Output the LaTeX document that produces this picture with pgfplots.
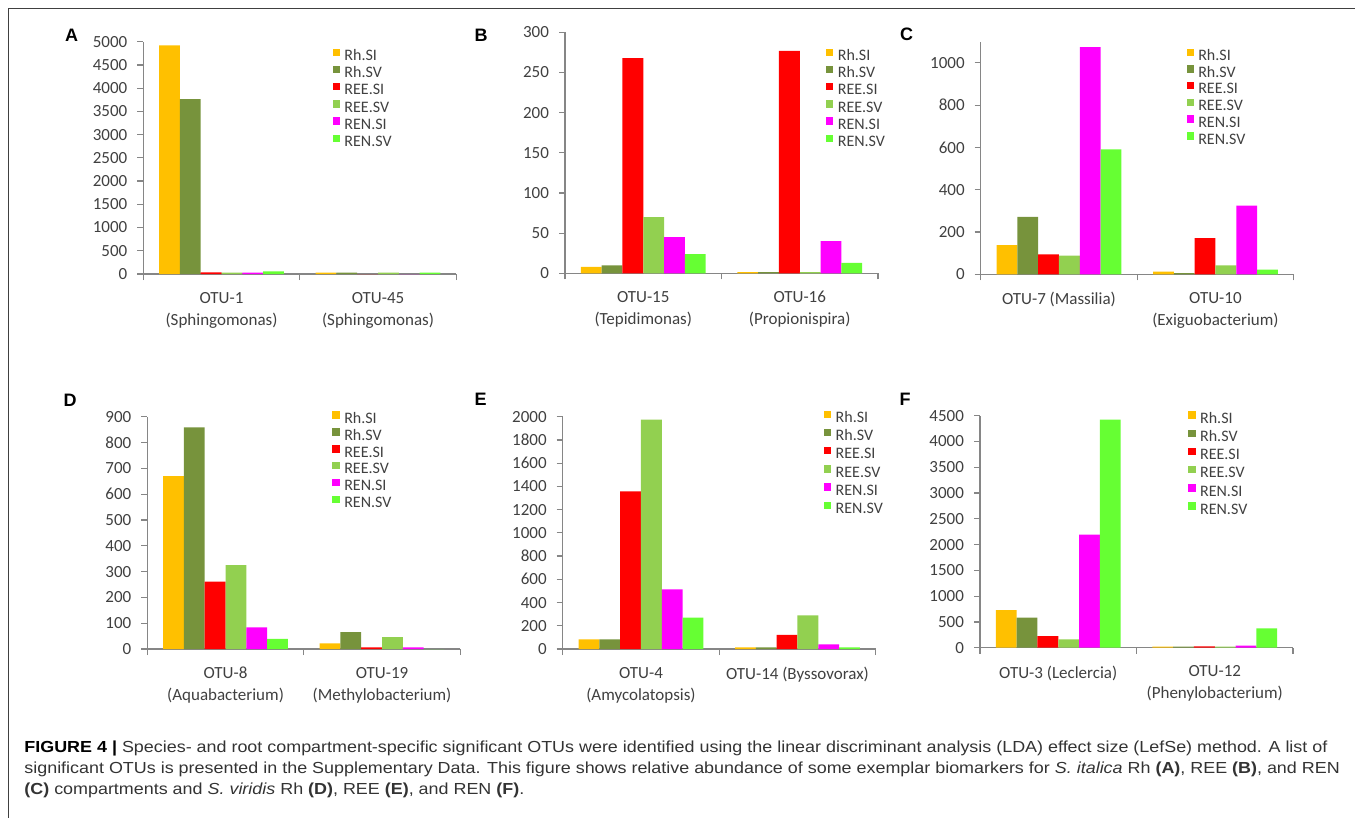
\documentclass[border=0pt]{standalone}
\usepackage{fontspec}
\usepackage{pgfplots}
\pgfplotsset{compat=1.18}
\setmainfont{Carlito}
\newfontfamily\capfont[FakeStretch=1.12]{Liberation Sans}
\newfontfamily\lblfont{Liberation Sans}

\definecolor{rhsi}{HTML}{FFC000}
\definecolor{rhsv}{HTML}{77933C}
\definecolor{reesi}{HTML}{FF0000}
\definecolor{reesv}{HTML}{92D050}
\definecolor{rensi}{HTML}{FF00FF}
\definecolor{rensv}{HTML}{66FF33}
\definecolor{axisgray}{HTML}{868686}
\definecolor{txt}{HTML}{404040}
\definecolor{captxt}{HTML}{333333}

\pgfplotsset{
  sq legend/.style={legend image code/.code={\fill[##1] (0pt,0.5pt) rectangle (3.7pt,4.2pt);}},
  panel/.style={
    scale only axis, width=156.5pt, anchor=south west,
    xmin=-0.5, xmax=1.5, ymin=0,
    axis x line*=bottom, axis y line*=left,
    axis line style={draw=axisgray, line width=0.6pt},
    ybar=0pt, bar width=10.4pt,
    every axis plot post/.append style={sq legend},
    xtick={0,1}, minor xtick={-0.5,0.5,1.5},
    tick align=outside, major tick length=3pt, minor tick length=3pt,
    tick style={draw=axisgray, line width=0.6pt},
    major x tick style={draw=none},
    tick label style={font=\fontsize{8.5}{11}\selectfont, text=txt},
    yticklabel style={xshift=-1.5pt},
    xticklabel style={align=center, yshift=-2.5pt},
    /pgf/number format/assume math mode=true,
    /pgf/number format/1000 sep={},
    legend cell align=left,
    legend style={draw=none, fill=none, inner sep=0pt, outer sep=0pt, anchor=north west,
      font=\fontsize{8}{8}\selectfont, text=txt, column sep=2.2pt, row sep=1.15pt,
      nodes={inner sep=0pt, text height=5pt, text depth=1.5pt, text=txt}},
  },
  bars/.style={fill=#1, draw=none},
}

\begin{document}
\begin{tikzpicture}
\useasboundingbox (0,0) rectangle (677.5pt,-409pt);
\draw[line width=0.8pt, black!75] (4.2pt,-409pt) -- (4.2pt,-4.3pt) -- (677.5pt,-4.3pt);

% A
\begin{axis}[panel, at={(71.65pt,-137pt)}, height=116.15pt,
  ymax=5000, ytick={0,500,...,5000},
  xticklabels={{OTU-1\\(Sphingomonas)},{OTU-45\\(Sphingomonas)}},
  legend style={at={(0.605,0.970)}}]
\addplot[bars=rhsi] coordinates {(0,4921) (1,30)};
\addplot[bars=rhsv] coordinates {(0,3766) (1,30)};
\addplot[bars=reesi] coordinates {(0,36) (1,0)};
\addplot[bars=reesv] coordinates {(0,28) (1,28)};
\addplot[bars=rensi] coordinates {(0,28) (1,0)};
\addplot[bars=rensv] coordinates {(0,57) (1,30)};
\legend{Rh.SI,Rh.SV,REE.SI,REE.SV,REN.SI,REN.SV}
\end{axis}

% B
\begin{axis}[panel, at={(282.5pt,-136.65pt)}, height=120.5pt,
  ymax=300, ytick={0,50,...,300},
  xticklabels={{OTU-15\\(Tepidimonas)},{OTU-16\\(Propionispira)}},
  legend style={at={(0.834,0.932)}}]
\addplot[bars=rhsi] coordinates {(0,8) (1,1.5)};
\addplot[bars=rhsv] coordinates {(0,10) (1,1.5)};
\addplot[bars=reesi] coordinates {(0,268) (1,277)};
\addplot[bars=reesv] coordinates {(0,70) (1,1.5)};
\addplot[bars=rensi] coordinates {(0,45) (1,40)};
\addplot[bars=rensv] coordinates {(0,24) (1,13)};
\legend{Rh.SI,Rh.SV,REE.SI,REE.SV,REN.SI,REN.SV}
\end{axis}

% C
\begin{axis}[panel, at={(490.35pt,-137.15pt)}, height=116.3pt,
  ymax=1100, ytick={0,200,...,1000},
  xticklabels={{OTU-7 (Massilia)},{OTU-10\\(Exiguobacterium)}},
  legend style={at={(0.6575,0.970)}, row sep=0.9pt}]
\addplot[bars=rhsi] coordinates {(0,138) (1,13)};
\addplot[bars=rhsv] coordinates {(0,272) (1,6)};
\addplot[bars=reesi] coordinates {(0,94) (1,171)};
\addplot[bars=reesv] coordinates {(0,88) (1,42)};
\addplot[bars=rensi] coordinates {(0,1074) (1,325)};
\addplot[bars=rensv] coordinates {(0,591) (1,22)};
\legend{Rh.SI,Rh.SV,REE.SI,REE.SV,REN.SI,REN.SV}
\end{axis}

% D
\begin{axis}[panel, at={(73.65pt,-324.5pt)}, height=116.15pt,
  ymax=900, ytick={0,100,...,900},
  xticklabels={{OTU-8\\(Aquabacterium)},{OTU-19\\(Methylobacterium)}},
  legend style={at={(0.5916,1.023)}, row sep=1pt}]
\addplot[bars=rhsi] coordinates {(0,670) (1,22)};
\addplot[bars=rhsv] coordinates {(0,859) (1,65)};
\addplot[bars=reesi] coordinates {(0,261) (1,6)};
\addplot[bars=reesv] coordinates {(0,325) (1,46)};
\addplot[bars=rensi] coordinates {(0,84) (1,6)};
\addplot[bars=rensv] coordinates {(0,39) (1,0)};
\legend{Rh.SI,Rh.SV,REE.SI,REE.SV,REN.SI,REN.SV}
\end{axis}

% E
\begin{axis}[panel, at={(281.35pt,-324.5pt)}, height=116.15pt,
  ymax=2000, ytick={0,200,...,2000},
  xticklabels={{OTU-4\\(Amycolatopsis)},{OTU-14 (Byssovorax)}},
  legend style={at={(0.8345,1.026)}, row sep=1.65pt}]
\addplot[bars=rhsi] coordinates {(0,83) (1,14)};
\addplot[bars=rhsv] coordinates {(0,83) (1,14)};
\addplot[bars=reesi] coordinates {(0,1357) (1,121)};
\addplot[bars=reesv] coordinates {(0,1974) (1,290)};
\addplot[bars=rensi] coordinates {(0,514) (1,40)};
\addplot[bars=rensv] coordinates {(0,270) (1,14)};
\legend{Rh.SI,Rh.SV,REE.SI,REE.SV,REN.SI,REN.SV}
\end{axis}

% F
\begin{axis}[panel, at={(490pt,-323.85pt)}, height=116pt,
  ymax=4500, ytick={0,500,...,4500},
  xticklabels={{OTU-3 (Leclercia)},{OTU-12\\(Phenylobacterium)}},
  legend style={at={(0.6656,1.019)}, row sep=1.65pt}]
\addplot[bars=rhsi] coordinates {(0,731) (1,20)};
\addplot[bars=rhsv] coordinates {(0,582) (1,20)};
\addplot[bars=reesi] coordinates {(0,226) (1,25)};
\addplot[bars=reesv] coordinates {(0,162) (1,20)};
\addplot[bars=rensi] coordinates {(0,2192) (1,40)};
\addplot[bars=rensv] coordinates {(0,4422) (1,375)};
\legend{Rh.SI,Rh.SV,REE.SI,REE.SV,REN.SI,REN.SV}
\end{axis}

% panel letters
\begin{scope}[every node/.style={font=\lblfont\bfseries\fontsize{9}{10}\selectfont}]
\node at (35.85pt,-17.5pt) {A};
\node at (240.5pt,-17.5pt) {B};
\node at (453.35pt,-17pt) {C};
\node at (35pt,-200pt) {D};
\node at (240.35pt,-199.65pt) {E};
\node at (452.5pt,-199.65pt) {F};
\end{scope}

% caption (base anchor sits on the last line)
\node[anchor=base west, inner sep=0pt, align=left, text=captxt,
  font=\capfont\fontsize{8}{10.35}\selectfont] at (12pt,-397.15pt)
  {{\bfseries\color{black}FIGURE 4 |} Species- and root compartment-specific significant OTUs were identified using the linear discriminant analysis (LDA) effect size (LefSe) method. A list of\\
  significant OTUs is presented in the Supplementary Data. This figure shows relative abundance of some exemplar biomarkers for \textit{S. italica} Rh \textbf{(A)}, REE \textbf{(B)}, and REN\\
  \textbf{(C)} compartments and \textit{S. viridis} Rh \textbf{(D)}, REE \textbf{(E)}, and REN \textbf{(F)}.};
\end{tikzpicture}
\end{document}
